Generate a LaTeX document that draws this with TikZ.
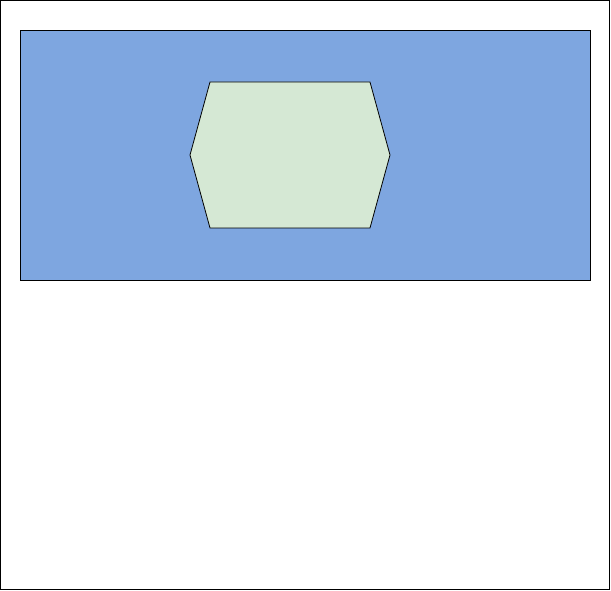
\documentclass[tikz,border=0pt]{standalone}
\usepackage{tikz}

\definecolor{panelblue}{HTML}{7EA6E0}
\definecolor{hexgreen}{HTML}{D5E8D4}

\begin{document}
\begin{tikzpicture}[x=1pt, y=-1pt,
    panel/.style={draw=black, fill=panelblue, line width=0.8pt},
    hexcell/.style={draw=black, fill=hexgreen, line width=0.8pt, line join=miter}
  ]
    % 1. Keret
    \useasboundingbox (0,0) rectangle (611,591);
    \draw[line width=1pt] (0.5,0.5) rectangle (609.5,589.5);

    % 2. Kék panel
    \draw[panel] (20,30) rectangle (590,280);

    % 3. Hatszög csúcsai
    \coordinate (h-1) at (210,82);
    \coordinate (h-2) at (370,82);
    \coordinate (h-3) at (390,155);
    \coordinate (h-4) at (370,228);
    \coordinate (h-5) at (210,228);
    \coordinate (h-6) at (190,155);
    \draw[hexcell] (h-1) -- (h-2) -- (h-3) -- (h-4) -- (h-5) -- (h-6) -- cycle;
\end{tikzpicture}
\end{document}
